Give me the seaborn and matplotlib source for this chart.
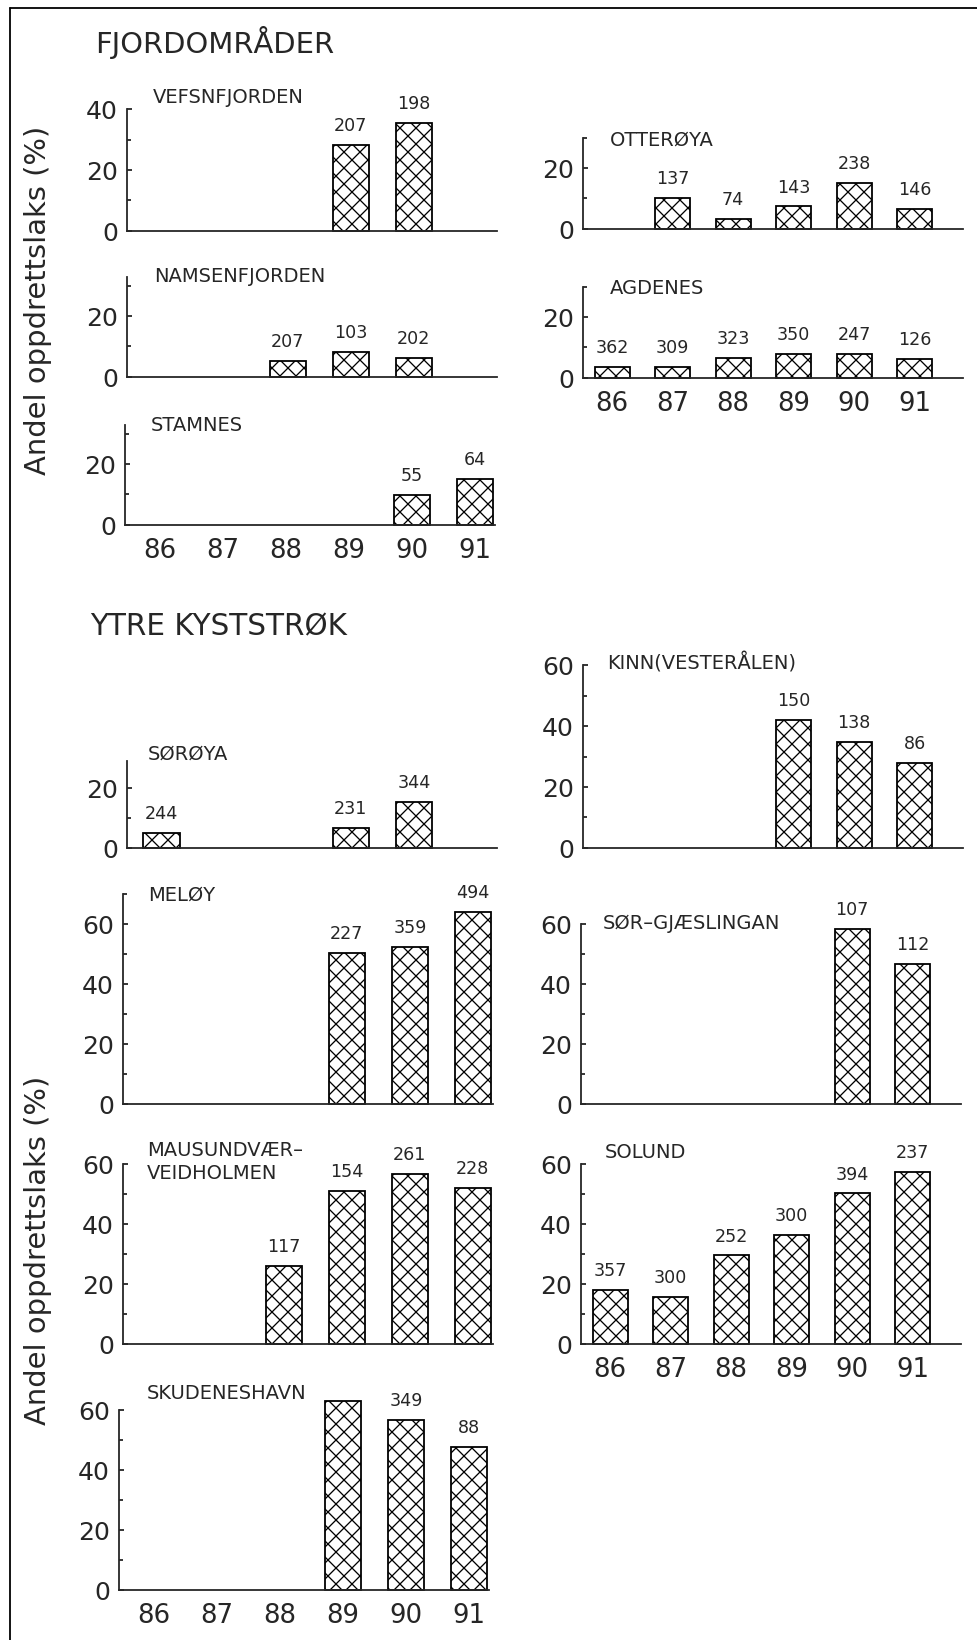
import pandas as pd
import seaborn as sns
import matplotlib.pyplot as plt
from matplotlib.lines import Line2D
from matplotlib.ticker import MultipleLocator

# DATA: andel oppdrettslaks (%) per år, antall fisk står over søylene
aar = ['86', '87', '88', '89', '90', '91']

vefsnfjorden_aar = ['89', '90']
vefsnfjorden_pst = [28.2, 35.4]
vefsnfjorden_n = [207, 198]

namsenfjorden_aar = ['88', '89', '90']
namsenfjorden_pst = [5.3, 8.3, 6.3]
namsenfjorden_n = [207, 103, 202]

stamnes_aar = ['90', '91']
stamnes_pst = [9.8, 15.2]
stamnes_n = [55, 64]

otteroya_aar = ['87', '88', '89', '90', '91']
otteroya_pst = [10.3, 3.2, 7.4, 15.2, 6.5]
otteroya_n = [137, 74, 143, 238, 146]

agdenes_aar = ['86', '87', '88', '89', '90', '91']
agdenes_pst = [3.6, 3.6, 6.6, 7.9, 7.9, 6.2]
agdenes_n = [362, 309, 323, 350, 247, 126]

soroya_aar = ['86', '89', '90']
soroya_pst = [5.1, 6.8, 15.3]
soroya_n = [244, 231, 344]

kinn_aar = ['89', '90', '91']
kinn_pst = [42.0, 34.8, 27.9]
kinn_n = [150, 138, 86]

meloy_aar = ['89', '90', '91']
meloy_pst = [50.3, 52.3, 64.0]
meloy_n = [227, 359, 494]

sorgjaeslingan_aar = ['90', '91']
sorgjaeslingan_pst = [58.3, 46.7]
sorgjaeslingan_n = [107, 112]

mausundvaer_aar = ['88', '89', '90', '91']
mausundvaer_pst = [26.1, 51.0, 56.6, 52.0]
mausundvaer_n = [117, 154, 261, 228]

solund_aar = ['86', '87', '88', '89', '90', '91']
solund_pst = [18.0, 15.7, 29.5, 36.4, 50.2, 57.4]
solund_n = [357, 300, 252, 300, 394, 237]

skudeneshavn_aar = ['89', '90', '91']
skudeneshavn_pst = [63.0, 56.7, 47.7]
skudeneshavn_n = [105, 349, 88]

# OPPSETT (piksler)
W, H, DPI = 977, 1640, 144

def pt(v):
    return v * 72 / DPI

sns.set_theme(style='white')
plt.rcParams['font.family'] = ['DejaVu Sans']
plt.rcParams['hatch.linewidth'] = pt(1.3)
plt.rcParams['axes.linewidth'] = pt(1.8)

fig = plt.figure(figsize=((W + 0.2) / DPI, (H + 0.2) / DPI), dpi=DPI)
fig.patch.set_facecolor('white')

kolonner = {'v': dict(width=370, xlim=(-0.55, 5.32)),
            'h': dict(width=380, xlim=(-0.48, 5.8))}


def tegn_panel(navn, aar_liste, pst, n, kol, x0, bunn, ytopp, ppu, xetiketter, nx, ny):
    bredde = kolonner[kol]['width']
    hoyde = ytopp * ppu
    ax = fig.add_axes([x0 / W, 1 - bunn / H, bredde / W, hoyde / H])
    df = pd.DataFrame({'aar': aar_liste, 'pst': pst})
    sns.barplot(data=df, x='aar', y='pst', order=aar, width=0.58, color='white',
                saturation=1, edgecolor='black', linewidth=pt(1.8), hatch='xxx',
                errorbar=None, ax=ax)
    for b in ax.patches:
        b.set_clip_on(False)
    ax.bar_label(ax.containers[0], labels=[str(v) for v in n], padding=pt(10),
                 fontsize=pt(17.5))
    ax.set_xlim(kolonner[kol]['xlim'])
    ax.set_ylim(0, ytopp)
    sns.despine(ax=ax)
    ax.patch.set_alpha(0)
    ax.yaxis.set_major_locator(MultipleLocator(20))
    ax.yaxis.set_minor_locator(MultipleLocator(10))
    ax.tick_params(axis='y', which='major', direction='in', length=pt(5), width=pt(1.8),
                   pad=pt(9), labelsize=pt(25), left=True)
    ax.tick_params(axis='y', which='minor', direction='in', length=pt(4), width=pt(1.8),
                   left=True)
    ax.tick_params(axis='x', length=0, pad=pt(13), labelsize=pt(26))
    if not xetiketter:
        ax.set_xticklabels([])
    ax.set_xlabel('')
    ax.set_ylabel('')
    fig.text(nx / W, 1 - ny / H, navn, ha='left', va='center', fontsize=pt(19.5),
             linespacing=1.3)
    return ax


# FJORDOMRÅDER
tegn_panel('VEFSNFJORDEN', vefsnfjorden_aar, vefsnfjorden_pst, vefsnfjorden_n,
           'v', 127, 231, 40, 3.04, False, 153, 97)
tegn_panel('NAMSENFJORDEN', namsenfjorden_aar, namsenfjorden_pst, namsenfjorden_n,
           'v', 127, 377, 33, 3.04, False, 154, 276)
tegn_panel('STAMNES', stamnes_aar, stamnes_pst, stamnes_n,
           'v', 125, 525, 33, 3.04, True, 151, 425)
tegn_panel('OTTERØYA', otteroya_aar, otteroya_pst, otteroya_n,
           'h', 583, 229, 30, 3.04, False, 610, 140)
tegn_panel('AGDENES', agdenes_aar, agdenes_pst, agdenes_n,
           'h', 583, 378, 30, 3.04, True, 610, 288)

# YTRE KYSTSTRØK
tegn_panel('SØRØYA', soroya_aar, soroya_pst, soroya_n,
           'v', 127, 848, 29, 3.0, False, 148, 754)
tegn_panel('KINN(VESTERÅLEN)', kinn_aar, kinn_pst, kinn_n,
           'h', 583, 848, 60, 3.04, False, 607, 663)
tegn_panel('MELØY', meloy_aar, meloy_pst, meloy_n,
           'v', 123, 1104, 70, 3.0, False, 148, 895)
tegn_panel('SØR–GJÆSLINGAN', sorgjaeslingan_aar, sorgjaeslingan_pst, sorgjaeslingan_n,
           'h', 581, 1104, 60, 3.0, False, 603, 923)
tegn_panel('MAUSUNDVÆR–\nVEIDHOLMEN', mausundvaer_aar, mausundvaer_pst, mausundvaer_n,
           'v', 123, 1344, 60, 3.0, False, 147, 1162)
tegn_panel('SOLUND', solund_aar, solund_pst, solund_n,
           'h', 581, 1344, 60, 3.0, True, 605, 1152)
tegn_panel('SKUDENESHAVN', skudeneshavn_aar, skudeneshavn_pst, skudeneshavn_n,
           'v', 119, 1590, 60, 3.0, True, 147, 1393)

# Overskrifter og aksetitler
fig.text(95 / W, 1 - 42 / H, 'FJORDOMRÅDER', ha='left', va='center', fontsize=pt(29))
fig.text(90 / W, 1 - 627 / H, 'YTRE KYSTSTRØK', ha='left', va='center', fontsize=pt(29.5))
fig.text(38 / W, 1 - 300 / H, 'Andel oppdrettslaks (%)', rotation=90,
         ha='center', va='center', fontsize=pt(29))
fig.text(38 / W, 1 - 1250 / H, 'Andel oppdrettslaks (%)', rotation=90,
         ha='center', va='center', fontsize=pt(29))

# Ramme (topp og venstre)
fig.add_artist(Line2D([10 / W, 1], [1 - 8 / H, 1 - 8 / H], transform=fig.transFigure,
                      color='black', lw=pt(1.8)))
fig.add_artist(Line2D([10 / W, 10 / W], [0, 1 - 8 / H], transform=fig.transFigure,
                      color='black', lw=pt(1.8)))

fig.savefig('out.png', dpi=DPI, facecolor='white')
